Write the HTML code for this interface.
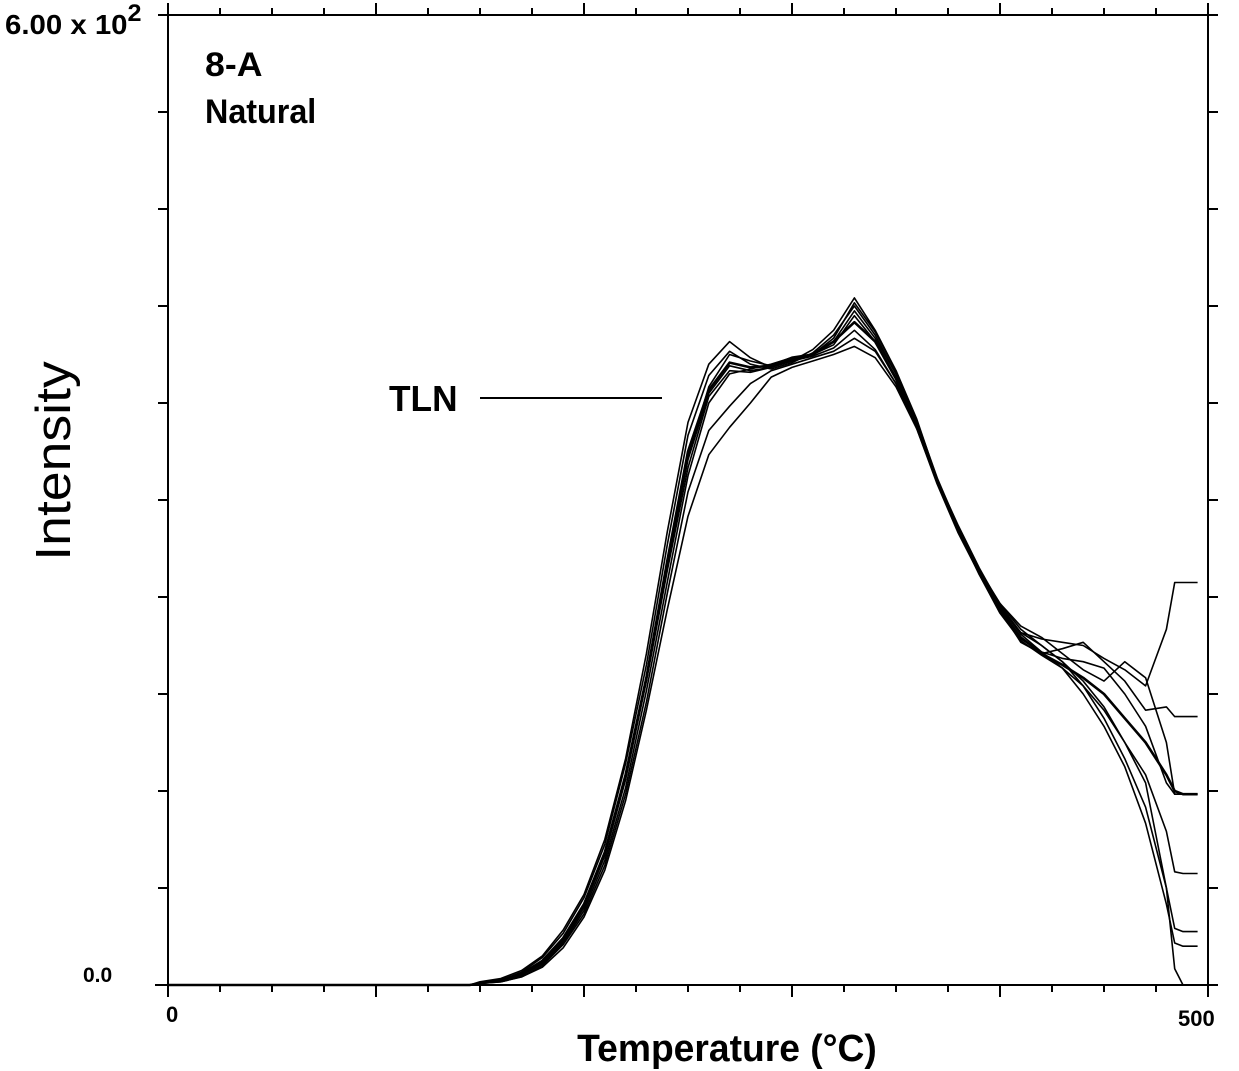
<!DOCTYPE html>
<html><head><meta charset="utf-8"><style>
html,body{margin:0;padding:0;background:#fff;}
svg{display:block;}
text{font-family:"Liberation Sans",sans-serif;fill:#000;}
</style></head><body>
<svg id="chart" width="1239" height="1071" viewBox="0 0 1239 1071">
<g id="axes"></g>
<g id="series"></g>
<text x="5" y="34" font-size="28" font-weight="bold" transform="translate(5,0) scale(1.05,1) translate(-5,0)">6.00 x 10<tspan dy="-13" font-size="24">2</tspan></text>
<text x="83" y="982" font-size="21" font-weight="bold">0.0</text>
<text x="166" y="1022" font-size="22" font-weight="bold">0</text>
<text x="1178" y="1026" font-size="22" font-weight="bold">500</text>
<text x="205" y="76" font-size="34" font-weight="bold" transform="translate(205,0) scale(1.05,1) translate(-205,0)">8-A</text>
<text x="205" y="123" font-size="34" font-weight="bold" transform="translate(205,0) scale(0.95,1) translate(-205,0)">Natural</text>
<text x="0" y="0" font-size="52" transform="translate(70,461) rotate(-90) scale(1.03,0.95)" text-anchor="middle">Intensity</text>
<text x="727" y="1061" font-size="38" font-weight="bold" text-anchor="middle" transform="translate(727,0) scale(0.98,1) translate(-727,0)">Temperature (°C)</text>
<text x="389" y="411" font-size="36" font-weight="bold" transform="translate(389,0) scale(0.98,1) translate(-389,0)">TLN</text>
<line x1="480" y1="398" x2="662" y2="398" stroke="#000" stroke-width="2"/>
</svg>
<script>
const temps=[0,145,150,160,170,180,190,200,210,220,230,240,250,260,270,280,290,300,310,320,330,340,350,360,370,380,390,400,410,420,430,440,450,460,470,480,484,488,495];
const s1=[0,0,1,3,7,15,29,50,82,130,190,262,330,368,385,382,383,388,390,398,410,398,375,345,310,280,255,232,215,205,198,190,180,165,150,130,120,118,118];
const s2=[0,0,2,4,9,18,34,56,90,140,205,280,348,384,398,388,382,386,393,405,425,405,380,350,312,282,255,233,218,214,212,210,202,195,185,220,249,249,249];
const s3=[0,0,1,3,8,17,32,54,87,137,198,272,340,377,392,384,381,385,391,402,420,402,378,348,312,280,255,232,212,205,208,212,200,188,170,172,166,166,166];
const s4=[0,0,1,3,6,14,27,48,80,127,188,256,320,364,380,379,382,386,389,394,405,393,372,346,312,282,256,236,220,210,200,188,172,150,125,60,10,0,0];
const s5=[0,0,1,3,6,13,26,46,77,122,182,249,315,360,378,381,384,388,390,396,414,398,376,347,310,281,254,230,213,204,196,185,170,150,130,95,70,69,69];
const s6=[0,0,1,2,5,12,25,44,74,118,175,242,305,343,358,372,380,384,388,392,400,392,372,345,312,284,258,235,218,210,200,185,165,140,110,60,35,33,33];
const s7=[0,0,1,2,5,11,23,42,71,114,170,232,290,328,345,360,376,382,386,390,395,388,370,344,310,282,256,234,217,206,196,180,160,135,100,50,26,24,24];
const s8=[0,0,1,3,6,14,28,49,81,129,190,259,325,366,383,380,382,387,390,398,417,400,378,349,313,283,257,236,222,215,205,195,188,200,190,150,118,118,118];
const s9=[0,0,1,3,7,15,29,50,82,130,191,262,327,370,390,386,383,386,390,400,422,404,380,349,312,281,254,231,214,206,202,200,196,180,160,125,118,118,118];
const allSeries=[s1,s2,s3,s4,s5,s6,s7,s8,s9];
const xMin=0,xMax=500,yMin=0,yMax=600;
const yTickValues=[0,60,120,180,240,300,360,420,480,540,600];
const xTickValues=[0,25,50,75,100,125,150,175,200,225,250,275,300,325,350,375,400,425,450,475,500];
const L=168,R=1208,T=15,B=985;
function xs(v){return L+(v-xMin)/(xMax-xMin)*(R-L);}
function ys(v){return B-(v-yMin)/(yMax-yMin)*(B-T);}
const NS="http://www.w3.org/2000/svg";
const axes=document.getElementById('axes');
function ln(x1,y1,x2,y2,w,name){
  const l=document.createElementNS(NS,'line');
  l.setAttribute('x1',x1);l.setAttribute('y1',y1);l.setAttribute('x2',x2);l.setAttribute('y2',y2);
  l.setAttribute('stroke','#000');l.setAttribute('stroke-width',w);
  
  
  axes.appendChild(l);
}
ln(L,T,L,B,2,'y-axis-left');
ln(R,T,R,B,2,'y-axis-right');
ln(155,B,R,B,2,'x-axis-bottom');
ln(158,T,R,T,2,'x-axis-top');
yTickValues.forEach(v=>{
  ln(L-10,ys(v),L,ys(v),2,'y-tick-left');
  ln(R,ys(v),R+10,ys(v),2,'y-tick-right');
});
xTickValues.forEach(v=>{
  const major=(v%100===0);
  const len=major?12:7;
  ln(xs(v),B,xs(v),B+len,2,'x-tick-bottom');
  ln(xs(v),T-len,xs(v),T,2,'x-tick-top');
});
const sg=document.getElementById('series');
allSeries.forEach((s,i)=>{
  const p=document.createElementNS(NS,'polyline');
  p.setAttribute('points',temps.map((t,j)=>xs(t).toFixed(1)+','+ys(s[j]).toFixed(1)).join(' '));
  p.setAttribute('fill','none');p.setAttribute('stroke','#000');
  p.setAttribute('stroke-width',i===0?2.6:1.6);
  p.setAttribute('stroke-linejoin','round');
  
  
  sg.appendChild(p);
});
</script>
</body></html>
